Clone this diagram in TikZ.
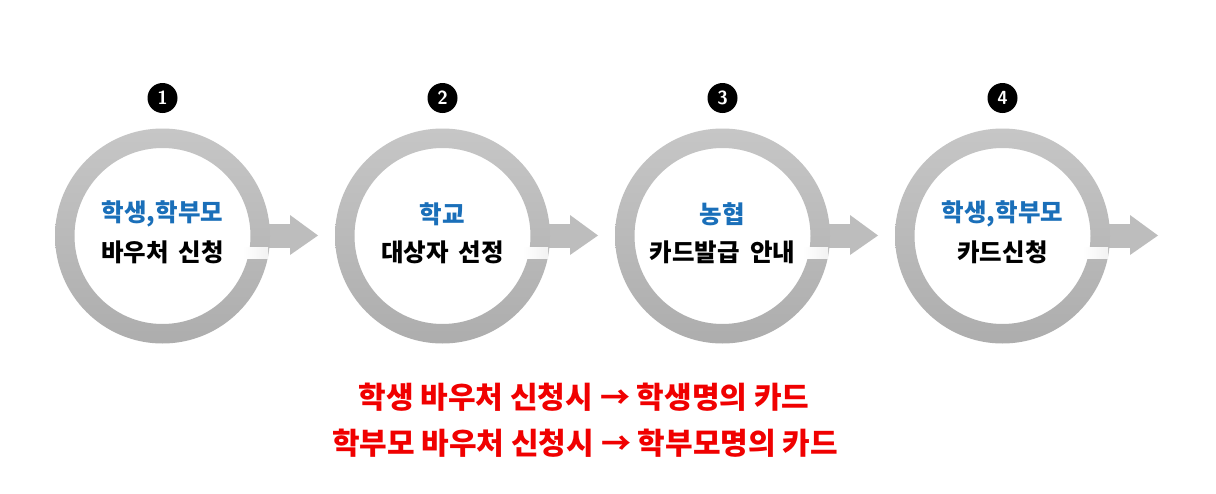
\documentclass[tikz,border=0pt]{standalone}
\usepackage{fontspec}
\newfontfamily\kr{Noto Sans CJK KR}
\usetikzlibrary{calc}
\newcommand{\widesp}{\spaceskip=10pt\relax}
\definecolor{ringgray}{HTML}{BDBDBD}
\definecolor{ringdark}{HTML}{ADADAD}
\definecolor{ringlight}{HTML}{C6C6C6}
\definecolor{kblue}{HTML}{1A6FB9}
\definecolor{kred}{HTML}{F00000}
\tikzset{
  bluetxt/.style={font=\kr\bfseries\fontsize{24.5}{28}\selectfont, text=kblue, inner sep=0pt},
  blacktxt/.style={font=\kr\bfseries\fontsize{24.5}{28}\selectfont\widesp, text=black, inner sep=0pt},
  redtxt/.style={font=\kr\bfseries\fontsize{30}{34}\selectfont, text=kred, inner sep=0pt},
  badge/.style={circle, fill=black, minimum size=30pt, inner sep=0pt, text=white,
    font=\sffamily\bfseries\fontsize{19}{19}\selectfont},
}
\newcommand{\stepring}[5]{% #1 name, #2 x center, #3 number, #4 blue text, #5 black text
  \coordinate (#1) at (#2,236);
  % arrow shaft and head
  \fill[ringgray] ($(#1)+(88,-12.5)$) rectangle ($(#1)+(128,11.5)$);
  \fill[ringgray] ($(#1)+(127.5,-21)$) -- ($(#1)+(155.5,-0.5)$) -- ($(#1)+(127.5,19)$) -- cycle;
  % ring
  \shade[even odd rule, shading angle=135, top color=ringlight, bottom color=ringdark]
    (#1) circle (107.5) (#1) circle (88);
  % highlight strip
  \shade[left color=white, right color=white!80!ringgray]
    ($(#1)+(80,11.5)$) rectangle ($(#1)+(105.5,22.5)$);
  \node[bluetxt] (#1t) at ($(#1)+(0,-22)$) {#4};
  \node[blacktxt] (#1b) at ($(#1)+(0,16)$) {#5};
  \node[badge] (#1n) at ($(#1)+(0,-138)$) {#3};
}
\begin{document}
\begin{tikzpicture}[x=1pt,y=-1pt]
\useasboundingbox[fill=white] (0,0) rectangle (1216,493);
\stepring{s1}{162.5}{1}{학생,학부모}{바우처 신청}
\stepring{s2}{442.5}{2}{학교}{대상자 선정}
\stepring{s3}{722.5}{3}{농협}{카드발급 안내}
\stepring{s4}{1002.5}{4}{학생,학부모}{카드신청}
\node[redtxt] (r1) at (584,397) {학생 바우처 신청시 → 학생명의 카드};
\node[redtxt] (r2) at (585,443) {학부모 바우처 신청시 → 학부모명의 카드};
\end{tikzpicture}
\end{document}
